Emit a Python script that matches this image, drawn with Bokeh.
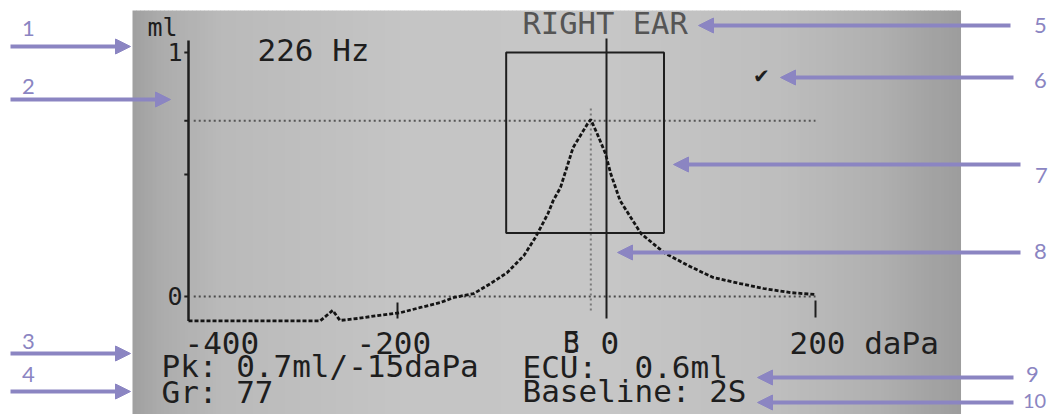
import numpy as np
from bokeh.plotting import figure
from bokeh.models import Range1d, Label, Arrow, NormalHead
from bokeh.embed import file_html
from bokeh.resources import INLINE

# ---------------- data ----------------
pressure_dapa = [-400, -274, -262, -255, -238, -219, -197, -178, -159, -146, -127,
                 -111, -95, -79, -68, -56, -51, -44, -32, -18, -15, -9, -1, 4, 13,
                 33, 55, 78, 102, 128, 150, 176, 200]
compliance_ml = [-0.1, -0.1, -0.057, -0.098, -0.09, -0.078, -0.066, -0.045, -0.025,
                 -0.004, 0.012, 0.053, 0.098, 0.168, 0.242, 0.34, 0.393, 0.447, 0.61,
                 0.709, 0.725, 0.668, 0.586, 0.504, 0.393, 0.258, 0.18, 0.127, 0.078,
                 0.053, 0.033, 0.016, 0.008]
peak_pressure = -15
peak_ml = 0.72
box_pressure = [-96, 55]
box_ml = [0.26, 1.0]
x_ticks = [-400, -200, 0, 200]
x_tick_labels = ["-400", "-200", "0", "200 daPa"]
y_ticks = [0, 0.5, 0.72, 1]
y_tick_labels = ["0", "1"]
freq_label = "226 Hz"
ear_label = "RIGHT EAR"
info_left = ["Pk: 0.7ml/-15daPa", "Gr: 77"]
info_right = ["ECU:\u00a0 0.6ml", "Baseline: 2S"]
callout_numbers = ["1", "2", "3", "4", "5", "6", "7", "8", "9", "10"]

# ---------------- page-pixel helpers (layout only) ----------------
W, H = 1052, 414
XS, X0 = 1.045, 606.0
YS, Y0 = 244.0, 296.0


def X(px):
    return (px - X0) / XS


def Y(py):
    return (Y0 - py) / YS


p = figure(width=W, height=H, x_range=Range1d(X(0), X(W)),
           y_range=Range1d(Y(H), Y(0)), output_backend="svg",
           toolbar_location=None, x_axis_location=None, y_axis_location=None,
           min_border=0, outline_line_color=None,
           background_fill_color="white", border_fill_color="white")
p.grid.visible = False

# screen background (grey LCD with darker edges)
edges = np.arange(132, 964, 4)
stops_x = [132, 160, 220, 400, 600, 780, 880, 963]
stops_g = [160, 172, 186, 197, 199, 190, 176, 156]
g = np.interp(edges[:-1] + 2, stops_x, stops_g).astype(int)
cols = ["#%02x%02x%02x" % (v, v, v) for v in g]
p.quad(left=X(edges[:-1]), right=X(edges[1:]) + 0.5, top=Y(10), bottom=Y(420),
       fill_color=cols, line_color=None)

ink = "#1e1e1e"

# dotted reference lines at 0 and at peak
p.line([-395, 200], [0, 0], line_color="#4a4a4a", line_width=2, line_dash="2 3")
p.line([-395, 200], [peak_ml, peak_ml], line_color="#555555", line_width=2, line_dash="2 3")
# dotted vertical at peak pressure
p.line([peak_pressure, peak_pressure], [Y(310), Y(105)], line_color="#7a7a7a",
       line_width=2, line_dash="2 3")

# normal-range box
p.quad(left=box_pressure[0], right=box_pressure[1], bottom=box_ml[0], top=box_ml[1],
       fill_color=None, line_color=ink, line_width=2)

# vertical 0 daPa line
p.line([0, 0], [Y(318), Y(38)], line_color=ink, line_width=2)

# y axis line and ticks
p.line([x_ticks[0], x_ticks[0]], [-0.1, Y(40)], line_color=ink, line_width=2.5)
p.segment(x0=[x_ticks[0] - 4] * len(y_ticks), x1=[x_ticks[0]] * len(y_ticks),
          y0=y_ticks, y1=y_ticks, line_color=ink, line_width=2)

# x ticks at -200 and 200
p.segment(x0=[x_ticks[1], x_ticks[3]], x1=[x_ticks[1], x_ticks[3]],
          y0=[Y(302), Y(300)], y1=[Y(318), Y(317)], line_color=ink, line_width=2)

# tympanogram curve
p.line(pressure_dapa, compliance_ml, line_color="#141414", line_width=2.8, line_dash="4 2")

FONT = "DejaVu Sans Mono"
FS = "31px"


def txt(s, px, py, size=FS, color=ink, align="left", font=FONT, baseline="middle",
        style="normal"):
    p.add_layout(Label(x=X(px), y=Y(py), text=s, text_font=font, text_font_size=size,
                       text_color=color, text_align=align, text_baseline=baseline,
                       text_font_style=style))


# axis texts
txt("ml", 147, 27, size="25px")
txt(y_tick_labels[1], 182, 51, size="25px", align="right")
txt(y_tick_labels[0], 182, 295, size="25px", align="right")
txt(freq_label, 257, 49)
txt(ear_label, 522, 23, size="30.5px", color="#555555")

txt(x_tick_labels[0], 184, 342)
txt(x_tick_labels[1], 356, 342)
txt("E", 562, 342, size="28px")
txt("3", 563, 342, size="28px")
txt(x_tick_labels[2], 600, 342)
txt(x_tick_labels[3], 789, 342)

txt(info_left[0], 161, 365)
txt(info_left[1], 161, 391)
txt(info_right[0], 522, 366)
txt(info_right[1], 522, 390)

# check mark
txt("\u2714", 761, 75, size="20px", align="center", font="DejaVu Sans")

# callout arrows and numbers
purple = "#8b85c2"
arrows = [((10, 46), (130, 46)), ((10, 99), (170, 99)), ((10, 353), (130, 353)),
          ((10, 391), (130, 391)), ((1010, 25), (698, 25)), ((1013, 77), (780, 77)),
          ((1020, 164), (673, 164)), ((1020, 252), (617, 252)), ((1013, 377), (757, 377)),
          ((1013, 402), (757, 402))]
for (sx, sy), (ex, ey) in arrows:
    p.add_layout(Arrow(x_start=X(sx), y_start=Y(sy), x_end=X(ex), y_end=Y(ey),
                       line_color=purple, line_width=4,
                       end=NormalHead(size=15, fill_color=purple, line_color=purple,
                                      line_width=1)))

num_pos = [(28, 28), (28, 86), (28, 341), (28, 374), (1040, 25), (1040, 80),
           (1041, 175), (1040, 251), (1032, 374), (1034, 400)]
for s, (nx, ny) in zip(callout_numbers, num_pos):
    sz = "20px" if s == "10" else "22px"
    txt(s, nx, ny, size=sz, color=purple, align="center", font="Lato")

open("out.html", "w").write(file_html(p, INLINE))
